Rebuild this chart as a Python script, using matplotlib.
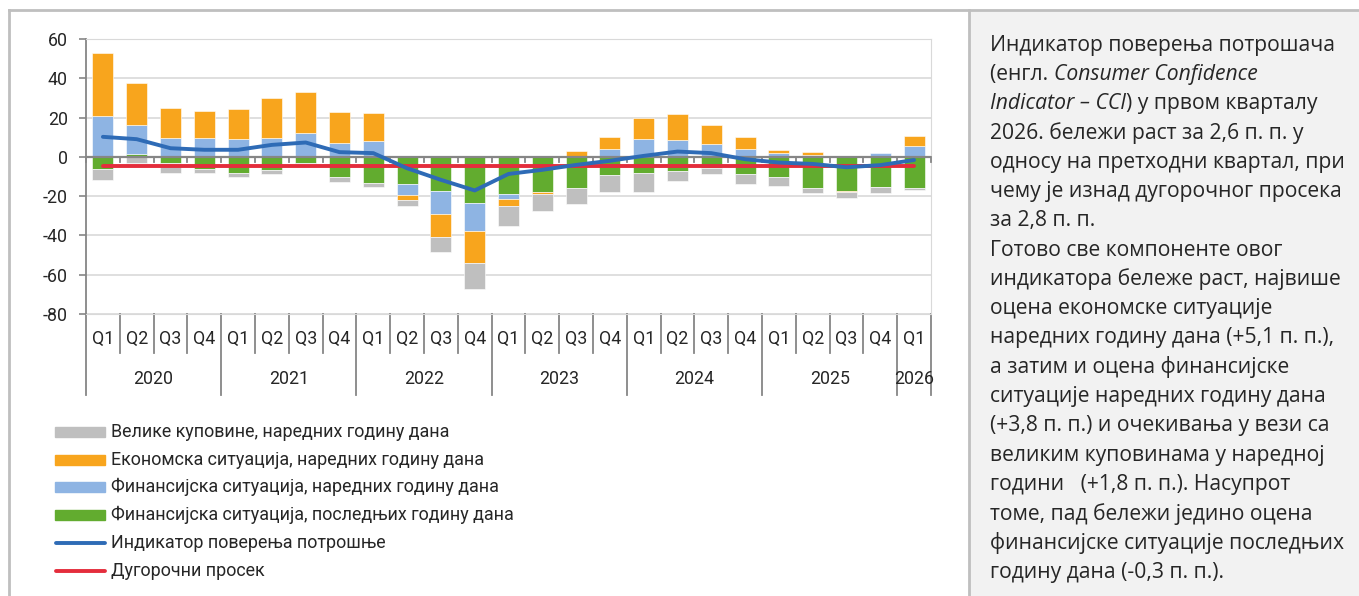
import matplotlib.pyplot as plt
from matplotlib.lines import Line2D
from matplotlib.patches import Rectangle
import numpy as np

# kvartali i godine
quarters = ["Q1", "Q2", "Q3", "Q4"] * 6 + ["Q1"]
years = ["2020", "2021", "2022", "2023", "2024", "2025", "2026"]

# komponente (procitano sa slike)
fin_last = [-6.3, 1.5, -3.2, -6.3, -8.0, -6.6, -3.2, -10.5, -13.1, -13.8, -17.3, -23.3, -19.0,
            -17.7, -15.6, -9.2, -8.0, -7.1, -5.8, -8.7, -10.0, -15.8, -17.3, -15.3, -15.6]
fin_next = [21.0, 14.6, 9.7, 9.8, 9.3, 9.8, 12.4, 7.0, 8.0, -5.6, -11.7, -14.4, -2.6,
            -0.2, 0.4, 4.2, 9.3, 8.7, 6.6, 4.2, 2.2, 1.0, -0.1, 1.8, 5.6]
econ_next = [31.8, 21.6, 15.4, 13.6, 15.3, 20.3, 20.5, 15.6, 14.4, -2.5, -11.7, -16.3, -3.2,
             -1.1, 2.7, 5.8, 10.4, 13.0, 9.7, 5.8, 1.4, 1.4, -0.7, -0.2, 4.9]
big_purch = [-5.4, -3.2, -4.8, -2.0, -2.0, -2.1, -0.5, -2.1, -2.0, -3.1, -7.5, -13.4, -10.5,
             -8.4, -8.5, -8.8, -10.0, -5.4, -3.1, -5.1, -4.8, -2.4, -2.9, -3.0, -1.2]
cci = [10.2, 9.0, 4.4, 3.6, 3.6, 6.1, 7.3, 2.4, 1.9, -5.8, -11.7, -17.1, -8.7,
       -6.6, -4.1, -2.0, 0.5, 2.7, 1.9, -1.2, -2.9, -3.6, -5.3, -4.2, -1.6]
long_avg = -4.4

labels = ["Велике куповине, наредних годину дана",
          "Економска ситуација, наредних годину дана",
          "Финансијска ситуација, наредних годину дана",
          "Финансијска ситуација, последњих годину дана",
          "Индикатор поверења потрошње",
          "Дугорочни просек"]

c_gray, c_orange, c_blue, c_green = "#bfbfbf", "#f8a51d", "#8eb4e3", "#62ac2f"
c_line, c_red = "#2e6bb6", "#e42d3c"
W, H = 1359, 596

plt.rcParams['font.family'] = ['Roboto', 'DejaVu Sans']
plt.rcParams['axes.unicode_minus'] = False
fig = plt.figure(figsize=(W / 100, H / 100), dpi=100)

def fx(px):
    return px / W

def fy(py):
    return 1 - py / H

# okviri i panel sa tekstom
fig.add_artist(Rectangle((fx(970), 0), 1 - fx(970), fy(11), transform=fig.transFigure,
                         color="#f2f2f2", zorder=0))
fig.add_artist(Line2D([fx(9), 1], [fy(10), fy(10)], transform=fig.transFigure, color="#bfbfbf", lw=2))
fig.add_artist(Line2D([fx(9), fx(9)], [0, fy(10)], transform=fig.transFigure, color="#bfbfbf", lw=2))
fig.add_artist(Line2D([fx(969), fx(969)], [0, fy(10)], transform=fig.transFigure, color="#bfbfbf", lw=2))

ax = fig.add_axes([fx(86), fy(314), fx(931) - fx(86), fy(39) - fy(314)])
x = np.arange(len(quarters))
pos_base = np.zeros(len(x))
neg_base = np.zeros(len(x))
for vals, col in [(fin_last, c_green), (fin_next, c_blue), (econ_next, c_orange), (big_purch, c_gray)]:
    v = np.array(vals)
    base = np.where(v >= 0, pos_base, neg_base)
    ax.bar(x, v, 0.62, bottom=base, color=col, edgecolor="white", linewidth=0.4, zorder=3)
    pos_base += np.where(v >= 0, v, 0)
    neg_base += np.where(v < 0, v, 0)

ax.plot(x, cci, color=c_line, lw=2.8, zorder=5, solid_capstyle="round")
ax.plot(x, [long_avg] * len(x), color=c_red, lw=2.8, zorder=4, solid_capstyle="round")

ax.set_xlim(-0.5, len(x) - 0.5)
ax.set_ylim(-80, 60)
ax.set_yticks(np.arange(-80, 61, 20))
ax.grid(axis="y", color="#d9d9d9", lw=1.2, zorder=0)
ax.set_xticks([])
ax.tick_params(axis="y", direction="out", length=5, color="#868686", width=1.2,
               labelsize=12.8, pad=8)
for t in ax.get_yticklabels():
    t.set_color("#262626")
for s in ["top", "right", "bottom"]:
    ax.spines[s].set_color("#d9d9d9")
ax.spines["left"].set_color("#868686")
ax.spines["left"].set_linewidth(1.3)

# nulta linija sa podeocima
ax.axhline(0, color="#868686", lw=1.6, zorder=4)
for b in np.arange(len(x) + 1) - 0.5:
    ax.plot([b, b], [0, -2.6], color="#868686", lw=1.3, zorder=4, clip_on=False)

# kategorije na dnu (dva nivoa)
tr = ax.get_xaxis_transform()
for i, q in enumerate(quarters):
    ax.text(i, -0.092, q, transform=tr, ha="center", va="center", fontsize=12.8, color="#262626")
for b in np.arange(len(x) + 1) - 0.5:
    is_year = (b + 0.5) % 4 == 0 or b == len(x) - 0.5
    ax.plot([b, b], [0, -0.295 if is_year else -0.14], transform=tr, color="#868686",
            lw=1.3, clip_on=False)
for k, yr in enumerate(years):
    cx = 4 * k + 1.5 if k < 6 else 24
    ax.text(cx, -0.236, yr, transform=tr, ha="center", va="center", fontsize=12.8, color="#262626")

# legenda
rows = [432, 460, 487, 515, 543, 571]
cols = [c_gray, c_orange, c_blue, c_green]
for i, lab in enumerate(labels):
    if i < 4:
        fig.add_artist(Rectangle((fx(55), fy(rows[i] + 5)), fx(50), fy(0) - fy(10),
                                 transform=fig.transFigure, color=cols[i]))
    else:
        fig.add_artist(Line2D([fx(56), fx(105)], [fy(rows[i]), fy(rows[i])], transform=fig.transFigure,
                              color=[c_line, c_red][i - 4], lw=2.8, solid_capstyle="round"))
    fig.text(fx(111), fy(rows[i]), lab, ha="left", va="center", fontsize=12.9, color="#262626")

# tekst desno
lines = [
    [("Индикатор поверења потрошача", "normal")],
    [("(енгл. ", "normal"), ("Consumer Confidence", "italic")],
    [("Indicator – CCI", "italic"), (") у првом кварталу", "normal")],
    [("2026. бележи раст за 2,6 п. п. у", "normal")],
    [("односу на претходни квартал, при", "normal")],
    [("чему је изнад дугорочног просека", "normal")],
    [("за 2,8 п. п.", "normal")],
    [("Готово све компоненте овог", "normal")],
    [("индикатора бележе раст, највише", "normal")],
    [("оцена економске ситуације", "normal")],
    [("наредних годину дана (+5,1 п. п.),", "normal")],
    [("а затим и оцена финансијске", "normal")],
    [("ситуације наредних годину дана", "normal")],
    [("(+3,8 п. п.) и очекивања у вези са", "normal")],
    [("великим куповинама у наредној", "normal")],
    [("години   (+1,8 п. п.). Насупрот", "normal")],
    [("томе, пад бележи једино оцена", "normal")],
    [("финансијске ситуације последњих", "normal")],
    [("годину дана (-0,3 п. п.).", "normal")],
]
fig.canvas.draw()
r = fig.canvas.get_renderer()
for j, parts in enumerate(lines):
    px = 990
    py = 45 + j * 29.3
    for txt, st in parts:
        t = fig.text(fx(px), fy(py), txt, ha="left", va="center", fontsize=15.2, style=st,
                     family=["Open Sans", "DejaVu Sans"], color="#262626")
        px += t.get_window_extent(renderer=r).width

fig.savefig("out.png", dpi=100)
